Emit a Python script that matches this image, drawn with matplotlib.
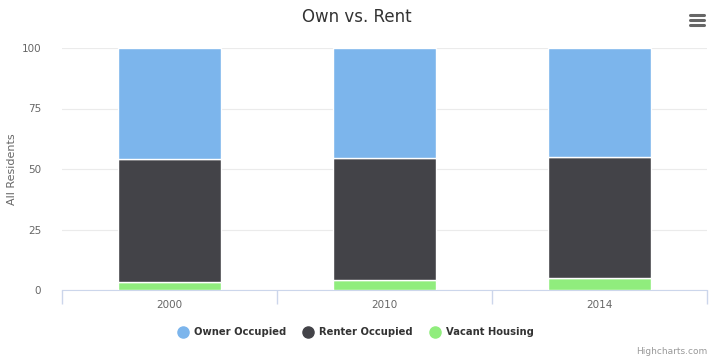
import matplotlib
matplotlib.use("Agg")
import matplotlib.pyplot as plt
from matplotlib.lines import Line2D
import numpy as np

categories = ["2000", "2010", "2014"]
vacant = [3.4, 4.1, 5.0]
renter = [50.7, 50.6, 50.1]
owner = [45.9, 45.3, 44.9]
series_names = ["Owner Occupied", "Renter Occupied", "Vacant Housing"]
colors = ["#7cb5ec", "#434348", "#90ed7d"]

W, H = 714, 362
fig = plt.figure(figsize=(W / 100, H / 100), dpi=100)
fig.patch.set_facecolor("white")
plt.rcParams['font.family'] = ['DejaVu Sans']

l, r, t, b = 62, 707, 48, 290
ax = fig.add_axes([l / W, 1 - b / H, (r - l) / W, (b - t) / H])
x = np.arange(len(categories))
bw = 0.48
bottoms = np.zeros(len(categories))
for vals, name, c in [(vacant, series_names[2], colors[2]),
                      (renter, series_names[1], colors[1]),
                      (owner, series_names[0], colors[0])]:
    ax.bar(x, vals, bw, bottom=bottoms, color=c, edgecolor="white", linewidth=1, zorder=3)
    bottoms = bottoms + np.array(vals)

ax.set_xlim(-0.5, len(categories) - 0.5)
ax.set_ylim(0, 100)
ax.set_yticks([0, 25, 50, 75, 100])
ax.yaxis.grid(True, color="#ebebeb", linewidth=0.8, zorder=0)
ax.set_axisbelow(True)
for s in ["top", "right", "left"]:
    ax.spines[s].set_visible(False)
ax.spines["bottom"].set_color("#ccd6eb")
ax.tick_params(axis="y", length=0, labelsize=7.5, labelcolor="#666666", pad=15)
ax.set_xticks(x)
ax.set_xticklabels(categories)
ax.tick_params(axis="x", length=0, labelsize=7.5, labelcolor="#666666", pad=7)
ax.set_xticks(np.arange(-0.5, len(categories)), minor=True)
ax.tick_params(axis="x", which="minor", length=10, color="#ccd6eb", width=1)
ax.set_ylabel("All Residents", fontsize=8, color="#666666")
ax.yaxis.set_label_coords((17 - l) / (r - l), 0.5)

fig.text(357 / W, 1 - 17 / H, "Own vs. Rent", ha="center", va="center", fontsize=12, color="#333333")

handles = [Line2D([0], [0], marker="o", linestyle="", markersize=8, markerfacecolor=c, markeredgecolor=c)
           for c in colors]
leg = fig.legend(handles, series_names, loc="center", bbox_to_anchor=(356 / W, 1 - 332 / H),
                 ncol=3, frameon=False, handletextpad=0.6, columnspacing=1.7, handlelength=1.0,
                 prop={"weight": "bold", "size": 7.2})
for tx in leg.get_texts():
    tx.set_color("#333333")

fig.text(707 / W, 1 - 352 / H, "Highcharts.com", ha="right", va="center", fontsize=6.5, color="#999999")

for yy in [15, 20, 25]:
    fig.add_artist(Line2D([690 / W, 704 / W], [1 - yy / H, 1 - yy / H], color="#666666", linewidth=2.2,
                          solid_capstyle="round"))

fig.savefig("out.png", dpi=100, facecolor="white")
